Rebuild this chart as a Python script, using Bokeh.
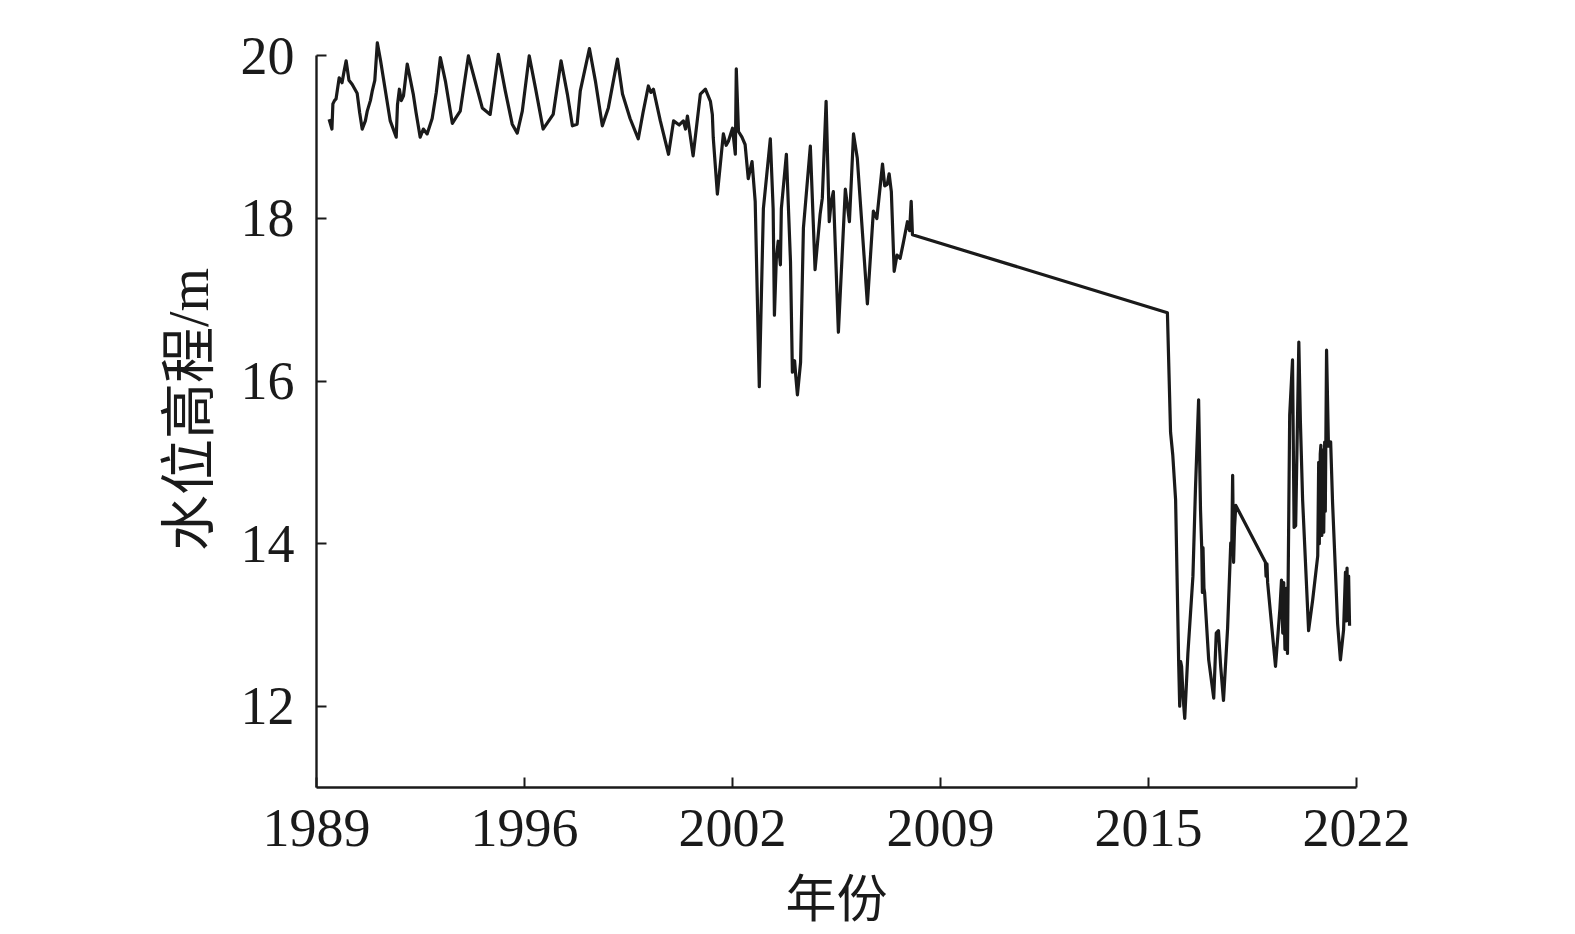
import numpy as np
from bokeh.plotting import figure
from bokeh.models import Range1d, FixedTicker
from bokeh.embed import file_html
from bokeh.resources import INLINE

# ---- data ----
years = [
    1989.40, 1989.49, 1989.52, 1989.57, 1989.62, 1989.72, 1989.81, 1989.87, 1989.94, 1990.03,
    1990.13, 1990.29, 1990.37, 1990.45, 1990.55, 1990.61, 1990.71, 1990.77, 1990.85, 1990.93,
    1991.03, 1991.12, 1991.34, 1991.53, 1991.57, 1991.63, 1991.69, 1991.76, 1991.88, 1992.07,
    1992.16, 1992.29, 1992.39, 1992.51, 1992.67, 1992.80, 1992.93, 1993.09, 1993.31, 1993.44,
    1993.56, 1993.82, 1993.97, 1994.26, 1994.51, 1994.77, 1994.99, 1995.21, 1995.37, 1995.53,
    1995.75, 1995.95, 1996.19, 1996.37, 1996.51, 1996.76, 1996.96, 1997.12, 1997.27, 1997.37,
    1997.66, 1997.85, 1998.07, 1998.26, 1998.55, 1998.71, 1998.95, 1999.21, 1999.36, 1999.53,
    1999.61, 1999.69, 1999.91, 2000.17, 2000.33, 2000.51, 2000.64, 2000.71, 2000.77, 2000.95,
    2001.18, 2001.34, 2001.50, 2001.56, 2001.59, 2001.72, 2001.91, 2002.00, 2002.07, 2002.20,
    2002.29, 2002.32, 2002.39, 2002.50, 2002.60, 2002.70, 2002.82, 2002.92, 2003.05, 2003.18,
    2003.40, 2003.49, 2003.53, 2003.59, 2003.65, 2003.72, 2003.75, 2003.91, 2004.04, 2004.10,
    2004.17, 2004.21, 2004.26, 2004.36, 2004.45, 2004.67, 2004.82, 2004.98, 2005.05, 2005.17,
    2005.27, 2005.33, 2005.40, 2005.56, 2005.78, 2005.91, 2006.04, 2006.16, 2006.48, 2006.67,
    2006.78, 2006.96, 2007.03, 2007.11, 2007.17, 2007.24, 2007.33, 2007.42, 2007.52, 2007.62,
    2007.75, 2007.82, 2007.87, 2007.91,
    2016.00, 2016.10, 2016.17, 2016.26, 2016.36, 2016.39, 2016.42, 2016.45, 2016.50, 2016.55,
    2016.65, 2016.81, 2016.89, 2016.99, 2017.05, 2017.09, 2017.11, 2017.13, 2017.16, 2017.18,
    2017.31, 2017.47, 2017.55, 2017.62, 2017.69, 2017.78, 2017.91, 2018.01, 2018.04, 2018.07,
    2018.10, 2018.13, 2018.17,
    2019.11, 2019.13, 2019.16, 2019.18, 2019.43, 2019.57, 2019.62, 2019.66, 2019.69, 2019.73,
    2019.77, 2019.81, 2019.88, 2019.97, 2020.02, 2020.07, 2020.17, 2020.22, 2020.29, 2020.48,
    2020.61, 2020.77, 2020.80, 2020.82, 2020.85, 2020.87, 2020.90, 2020.93, 2020.96, 2020.99,
    2021.01, 2021.05, 2021.11, 2021.18, 2021.24, 2021.40, 2021.49, 2021.59, 2021.65, 2021.68,
    2021.70, 2021.72, 2021.75, 2021.78,
]
levels = [
    19.22, 19.10, 19.41, 19.45, 19.47, 19.73, 19.67, 19.80, 19.94, 19.70,
    19.65, 19.54, 19.30, 19.10, 19.20, 19.32, 19.45, 19.57, 19.70, 20.16,
    19.95, 19.73, 19.20, 19.00, 19.40, 19.59, 19.45, 19.51, 19.90, 19.53,
    19.30, 19.00, 19.10, 19.04, 19.23, 19.55, 19.98, 19.69, 19.17, 19.25,
    19.32, 20.00, 19.78, 19.36, 19.28, 20.02, 19.57, 19.16, 19.05, 19.32,
    20.00, 19.60, 19.10, 19.20, 19.28, 19.94, 19.53, 19.14, 19.16, 19.57,
    20.09, 19.69, 19.14, 19.36, 19.96, 19.53, 19.23, 18.98, 19.30, 19.63,
    19.55, 19.59, 19.20, 18.79, 19.20, 19.15, 19.20, 19.10, 19.26, 18.77,
    19.53, 19.59, 19.44, 19.28, 18.99, 18.30, 19.04, 18.90, 18.95, 19.11,
    18.79, 19.84, 19.07, 19.00, 18.91, 18.49, 18.70, 18.21, 15.93, 18.12,
    18.98, 18.12, 16.81, 17.50, 17.72, 17.43, 18.12, 18.79, 17.47, 16.11,
    16.25, 16.05, 15.83, 16.23, 17.88, 18.89, 17.37, 18.05, 18.25, 19.44,
    17.96, 18.20, 18.33, 16.60, 18.36, 17.96, 19.04, 18.74, 16.95, 18.09,
    18.00, 18.67, 18.40, 18.42, 18.55, 18.33, 17.35, 17.55, 17.51, 17.70,
    17.96, 17.85, 18.21, 17.80,
    16.84, 15.37, 15.09, 14.54, 12.49, 12.00, 12.55, 12.49, 12.10, 11.85,
    12.65, 13.60, 14.67, 15.77, 14.42, 13.93, 13.40, 13.95, 13.45, 13.40,
    12.57, 12.10, 12.90, 12.93, 12.49, 12.07, 12.96, 14.01, 13.90, 14.84,
    13.77, 14.20, 14.47,
    13.77, 13.60, 13.75, 13.52, 12.49, 13.20, 13.55, 12.90, 13.52, 12.70,
    13.45, 12.65, 15.58, 16.26, 14.20, 14.22, 16.48, 15.50, 14.54, 12.93,
    13.31, 13.85, 15.00, 14.00, 15.10, 15.21, 14.10, 15.15, 14.14, 15.25,
    14.40, 16.38, 15.20, 15.25, 14.51, 13.02, 12.57, 12.94, 13.65, 13.05,
    13.70, 13.10, 13.60, 12.99,
]

x_tick_labels = ["1989", "1996", "2002", "2009", "2015", "2022"]
y_ticks = [12, 14, 16, 18, 20]
x_label = "年份"
y_label = "水位高程/m"

X_START, X_END = 1989, 2022
Y_START, Y_END = 11, 20

x_tick_pos = list(np.linspace(X_START, X_END, len(x_tick_labels)))

p = figure(width=1570, height=934, output_backend="svg", toolbar_location=None,
           x_range=Range1d(X_START, X_END), y_range=Range1d(Y_START, 20.3),
           min_border_left=316, min_border_right=214, min_border_top=31,
           min_border_bottom=147)
p.outline_line_color = None
p.xgrid.visible = False
p.ygrid.visible = False
p.background_fill_color = "white"
p.border_fill_color = "white"

p.line(years, levels, line_width=3.2, color="#1a1a1a", line_join="round")

serif = "Liberation Serif, Noto Sans CJK SC"
for ax in (p.xaxis[0], p.yaxis[0]):
    ax.axis_line_width = 2.4
    ax.axis_line_color = "#1a1a1a"
    ax.major_tick_line_width = 2
    ax.major_tick_line_color = "#1a1a1a"
    ax.major_tick_in = 10
    ax.major_tick_out = 0
    ax.minor_tick_line_color = None
    ax.major_label_text_font = serif
    ax.major_label_text_font_size = "54px"
    ax.major_label_text_color = "#1a1a1a"
    ax.axis_label_text_font = serif
    ax.axis_label_text_font_style = "normal"
    ax.axis_label_text_color = "#1a1a1a"

p.xaxis.ticker = FixedTicker(ticks=x_tick_pos)
p.xaxis.major_label_overrides = {float(t): l for t, l in zip(x_tick_pos, x_tick_labels)}
p.xaxis.bounds = (X_START, X_END)
p.xaxis.axis_label = x_label
p.xaxis.axis_label_text_font_size = "51px"
p.xaxis.major_label_standoff = 22
p.xaxis.axis_label_standoff = 23

p.yaxis.ticker = FixedTicker(ticks=y_ticks)
p.yaxis.bounds = (Y_START, Y_END)
p.yaxis.axis_label = y_label
p.yaxis.axis_label_text_font_size = "56px"
p.yaxis.major_label_standoff = 22
p.yaxis.axis_label_standoff = 18

open("out.html", "w").write(file_html(p, INLINE))
